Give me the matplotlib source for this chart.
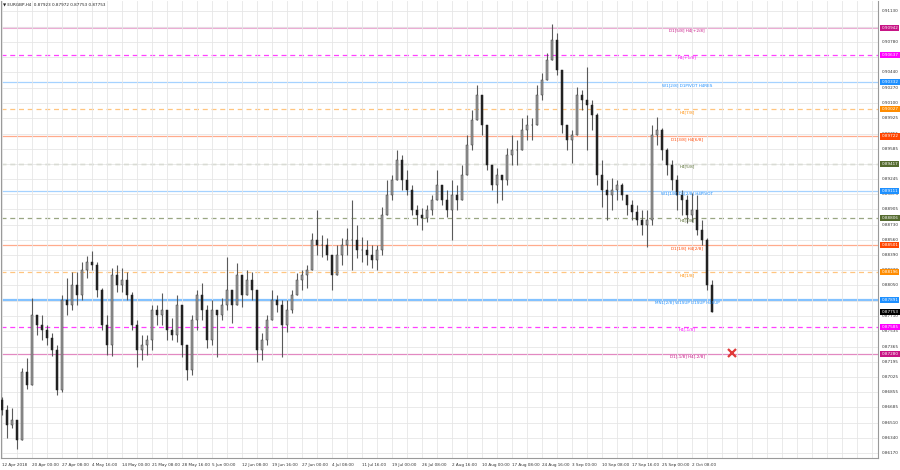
import numpy as np
import matplotlib
matplotlib.use("Agg")
import matplotlib.pyplot as plt
import matplotlib.transforms as mtransforms

# ---------------- data ----------------
symbol_title = "EURGBP,H4  0.87923 0.87972 0.87753 0.87753"
first_open = 0.86765
highs = [0.86799, 0.86709, 0.86675, 0.86485, 0.87124, 0.87236, 0.87910, 0.87708, 0.87719, 0.87607,
         0.87517, 0.87382, 0.87944, 0.88134, 0.88201, 0.88201, 0.88313, 0.88381, 0.88437, 0.88313,
         0.88022, 0.87719, 0.88246, 0.88280, 0.88246, 0.88201, 0.87977, 0.87663, 0.87494, 0.87494,
         0.87831, 0.87831, 0.87966, 0.87775, 0.87685, 0.87944, 0.87831, 0.87360, 0.87719, 0.87999,
         0.88078, 0.87831, 0.87887, 0.87775, 0.87910, 0.88370, 0.87999, 0.88302, 0.88168, 0.88224,
         0.88201, 0.87999, 0.87517, 0.87719, 0.87999, 0.87944, 0.87887, 0.87887, 0.87999, 0.88190,
         0.88224, 0.88280, 0.88639, 0.88897, 0.88616, 0.88583, 0.88392, 0.88504, 0.88583, 0.88695,
         0.89009, 0.88728, 0.88594, 0.88560, 0.88504, 0.88504, 0.88931, 0.89234, 0.89290, 0.89570,
         0.89514, 0.89346, 0.89177, 0.88953, 0.88919, 0.88953, 0.89065, 0.89346, 0.89177, 0.89121,
         0.89234, 0.89177, 0.89402, 0.89738, 0.90019, 0.90299, 0.90131, 0.89851, 0.89402, 0.89368,
         0.89290, 0.89592, 0.89738, 0.89682, 0.89929, 0.89963, 0.89929, 0.90299, 0.90434, 0.90658,
         0.90984, 0.90883, 0.90468, 0.89851, 0.89795, 0.90277, 0.90243, 0.90501, 0.90131, 0.89985,
         0.89458, 0.89234, 0.89256, 0.89234, 0.89200, 0.89065, 0.89009, 0.88953, 0.88897, 0.88897,
         0.89851, 0.89940, 0.89817, 0.89592, 0.89458, 0.89290, 0.89121, 0.89065, 0.89088, 0.89065,
         0.88785, 0.88583, 0.88112]
lows = [0.86597, 0.86339, 0.86451, 0.86215, 0.86316, 0.86889, 0.86933, 0.87494, 0.87438, 0.87382,
        0.87259, 0.86821, 0.86855, 0.87719, 0.87775, 0.87831, 0.87887, 0.88134, 0.88224, 0.87921,
        0.87551, 0.87270, 0.87259, 0.87977, 0.87977, 0.87887, 0.87551, 0.87135, 0.87214, 0.87270,
        0.87326, 0.87607, 0.87607, 0.87438, 0.87438, 0.87416, 0.87248, 0.86990, 0.87046, 0.87551,
        0.87663, 0.87348, 0.87382, 0.87248, 0.87663, 0.87775, 0.87629, 0.87887, 0.87809, 0.87944,
        0.87887, 0.87191, 0.87214, 0.87382, 0.87663, 0.87753, 0.87248, 0.87528, 0.87741, 0.87977,
        0.87999, 0.88022, 0.88224, 0.88392, 0.88370, 0.88336, 0.87999, 0.88168, 0.88280, 0.88392,
        0.88224, 0.88358, 0.88313, 0.88280, 0.88246, 0.88224, 0.88392, 0.88841, 0.89009, 0.89234,
        0.89121, 0.89065, 0.88841, 0.88728, 0.88672, 0.88762, 0.88841, 0.89009, 0.88953, 0.88818,
        0.88560, 0.88897, 0.89065, 0.89290, 0.89570, 0.89907, 0.89738, 0.89346, 0.89121, 0.88975,
        0.89009, 0.89177, 0.89402, 0.89402, 0.89570, 0.89682, 0.89682, 0.89851, 0.90131, 0.90355,
        0.90580, 0.90412, 0.89761, 0.89570, 0.89424, 0.89738, 0.90019, 0.89570, 0.89795, 0.89177,
        0.88931, 0.88785, 0.88897, 0.89009, 0.89009, 0.88841, 0.88785, 0.88728, 0.88616, 0.88482,
        0.88728, 0.89626, 0.89458, 0.89290, 0.89121, 0.88897, 0.88841, 0.88751, 0.88762, 0.88616,
        0.88504, 0.87999, 0.87753]
closes = [0.86653, 0.86485, 0.86541, 0.86316, 0.87079, 0.86933, 0.87719, 0.87607, 0.87551, 0.87461,
          0.87326, 0.86877, 0.87887, 0.87831, 0.88056, 0.87944, 0.88224, 0.88313, 0.88280, 0.87999,
          0.87607, 0.87382, 0.88168, 0.88056, 0.88112, 0.87944, 0.87607, 0.87326, 0.87382, 0.87438,
          0.87775, 0.87719, 0.87775, 0.87551, 0.87494, 0.87831, 0.87382, 0.87102, 0.87663, 0.87944,
          0.87775, 0.87438, 0.87775, 0.87719, 0.87831, 0.87999, 0.87831, 0.88168, 0.87944, 0.88112,
          0.87999, 0.87326, 0.87438, 0.87663, 0.87887, 0.87831, 0.87607, 0.87775, 0.87944, 0.88112,
          0.88168, 0.88224, 0.88560, 0.88504, 0.88504, 0.88392, 0.88168, 0.88392, 0.88504, 0.88560,
          0.88560, 0.88448, 0.88448, 0.88392, 0.88336, 0.88448, 0.88841, 0.89065, 0.89234, 0.89458,
          0.89234, 0.89121, 0.88897, 0.88841, 0.88807, 0.88897, 0.89009, 0.89177, 0.89009, 0.88897,
          0.89065, 0.89009, 0.89290, 0.89626, 0.89907, 0.90187, 0.89851, 0.89402, 0.89177, 0.89290,
          0.89234, 0.89514, 0.89570, 0.89570, 0.89795, 0.89851, 0.89851, 0.90187, 0.90355, 0.90580,
          0.90804, 0.90468, 0.89851, 0.89682, 0.89738, 0.90187, 0.90131, 0.90075, 0.89963, 0.89290,
          0.89121, 0.89065, 0.89121, 0.89177, 0.89065, 0.88953, 0.88874, 0.88785, 0.88728, 0.88785,
          0.89738, 0.89795, 0.89570, 0.89402, 0.89234, 0.89065, 0.89009, 0.88841, 0.88897, 0.88672,
          0.88560, 0.88056, 0.87753]

date_labels = ["12 Apr 2018", "20 Apr 00:00", "27 Apr 08:00", "4 May 16:00", "14 May 00:00",
               "21 May 08:00", "28 May 16:00", "5 Jun 00:00", "12 Jun 08:00", "19 Jun 16:00",
               "27 Jun 00:00", "4 Jul 08:00", "11 Jul 16:00", "19 Jul 00:00", "26 Jul 08:00",
               "2 Aug 16:00", "10 Aug 00:00", "17 Aug 08:00", "24 Aug 16:00", "3 Sep 00:00",
               "10 Sep 08:00", "17 Sep 16:00", "25 Sep 00:00", "2 Oct 08:00"]

price_ticks = [0.91130, 0.90955, 0.90780, 0.90610, 0.90440, 0.90270, 0.90100, 0.89925, 0.89755,
               0.89585, 0.89415, 0.89245, 0.89075, 0.88905, 0.88730, 0.88560, 0.88390, 0.88220,
               0.88050, 0.87880, 0.87710, 0.87535, 0.87365, 0.87195, 0.87025, 0.86855, 0.86685,
               0.86510, 0.86340, 0.86170]

level_prices = [0.90942, 0.90637, 0.90332, 0.90027, 0.89722, 0.89417, 0.89111, 0.88806,
                0.88501, 0.88196, 0.87891, 0.87585, 0.87280]
level_names = ["D1[5/8] H4[+2/8]", "H4[+1/8]", "W1[2/8] D1PIVOT H4RES", "H4[7/8]",
               "D1[3/8] H4[6/8]", "H4[5/8]", "W1[1/8] D1[2/8] H4PIVOT", "H4[3/8]",
               "D1[1/8] H4[2/8]", "H4[1/8]", "MN1[2/8] W1SUP D1SUP H4SUP", "H4[-1/8]",
               "D1[-1/8] H4[-2/8]"]
level_colors = ["#C71585", "#FF00FF", "#1E90FF", "#FF8C00", "#FF4500", "#556B2F", "#1E90FF",
                "#556B2F", "#FF4500", "#FF8C00", "#1E90FF", "#FF00FF", "#C71585"]
level_styles = ["-", "--", "-", "--", "-", "--", "-", "--", "-", "--", "-", "--", "-"]
level_widths = [1.5, 0.9, 0.9, 0.9, 0.9, 0.9, 0.9, 0.9, 0.9, 0.9, 1.6, 0.9, 0.9]
level_alpha = [0.35, 0.75, 0.4, 0.5, 0.45, 0.6, 0.4, 0.6, 0.45, 0.5, 0.55, 0.75, 0.5]

current_price = 0.87753
marker_bar = 146
marker_price = 0.87293

# ---------------- figure ----------------
W, H = 900, 470
fig = plt.figure(figsize=(W / 100, H / 100), dpi=100)
fig.patch.set_facecolor("white")
ax = fig.add_axes([1 / W, 12 / H, 877 / W, 457 / H])
ax.set_facecolor("white")

n = len(closes)
idx = np.arange(n)
closes_a = np.array(closes)
opens_a = np.concatenate([[first_open], closes_a[:-1]])
hi = np.maximum.reduce([np.array(highs), opens_a, closes_a])
lo = np.minimum.reduce([np.array(lows), opens_a, closes_a])

ax.set_xlim(-0.2, 175.2)
ax.set_ylim(0.86114, 0.91242)

# grid
ax.set_xticks(np.arange(0, 176, 3))
ax.set_yticks(price_ticks)
ax.grid(True, color="#e6e6e6", lw=0.6, zorder=0)
ax.tick_params(length=0, labelleft=False, labelbottom=False)
ax.spines["top"].set_visible(False)
for s in ["left", "right", "bottom"]:
    ax.spines[s].set_color("#9a9a9a")
    ax.spines[s].set_linewidth(0.8)

# levels
for p, name, c, ls, lw, a in zip(level_prices, level_names, level_colors, level_styles,
                                 level_widths, level_alpha):
    if ls == "--":
        ax.axhline(p, color=c, lw=lw, alpha=a, zorder=1, dashes=(4, 3))
    else:
        ax.axhline(p, color=c, lw=lw, alpha=a, zorder=1)
    ax.annotate(name, xy=(137, p), xytext=(0, -2), textcoords="offset points",
                ha="center", va="center", fontsize=3.0, color=c, zorder=5)

# candles
ax.vlines(idx, lo, hi, color="#5a5a5a", lw=0.8, zorder=3)
up = closes_a >= opens_a
body_up = np.maximum(closes_a[up] - opens_a[up], 0.00004)
body_dn = np.maximum(opens_a[~up] - closes_a[~up], 0.00004)
ax.bar(idx[up], body_up, bottom=opens_a[up], width=0.42, color="#9c9c9c",
       edgecolor="#3a3a3a", lw=0.35, zorder=4)
ax.bar(idx[~up], body_dn, bottom=closes_a[~up], width=0.42, color="#222222",
       edgecolor="#222222", lw=0.35, zorder=4)

# red cross marker
ax.plot([marker_bar], [marker_price], marker="x", ms=6, mew=1.6, color="#e03a3a", zorder=6)

# right price axis labels
tr = mtransforms.blended_transform_factory(ax.transAxes, ax.transData)
for t in price_ticks:
    ax.text(1.004, t, f"{t:.5f}", transform=tr, fontsize=3.0, color="#333333",
            ha="left", va="center", clip_on=False)
for p, c in zip(level_prices, level_colors):
    ax.text(1.004, p, f"{p:.5f}", transform=tr, fontsize=3.0, color="white",
            ha="left", va="center", clip_on=False, zorder=10,
            bbox=dict(boxstyle="square,pad=0.25", fc=c, ec="none"))
ax.text(1.004, current_price, f"{current_price:.5f}", transform=tr, fontsize=3.0, color="white",
        ha="left", va="center", clip_on=False, zorder=10,
        bbox=dict(boxstyle="square,pad=0.25", fc="black", ec="none"))

# bottom date labels
trx = mtransforms.blended_transform_factory(ax.transData, ax.transAxes)
for k, lab in enumerate(date_labels):
    ax.text(k * 6, -0.016, lab, transform=trx, fontsize=3.0, color="#333333",
            ha="left", va="center", clip_on=False)

# title
fig.text(3 / W, 1 - 5 / H, "\u25BC " + symbol_title, fontsize=3.0, color="#222222",
         ha="left", va="center")

fig.savefig("out.png", dpi=100, facecolor="white")
